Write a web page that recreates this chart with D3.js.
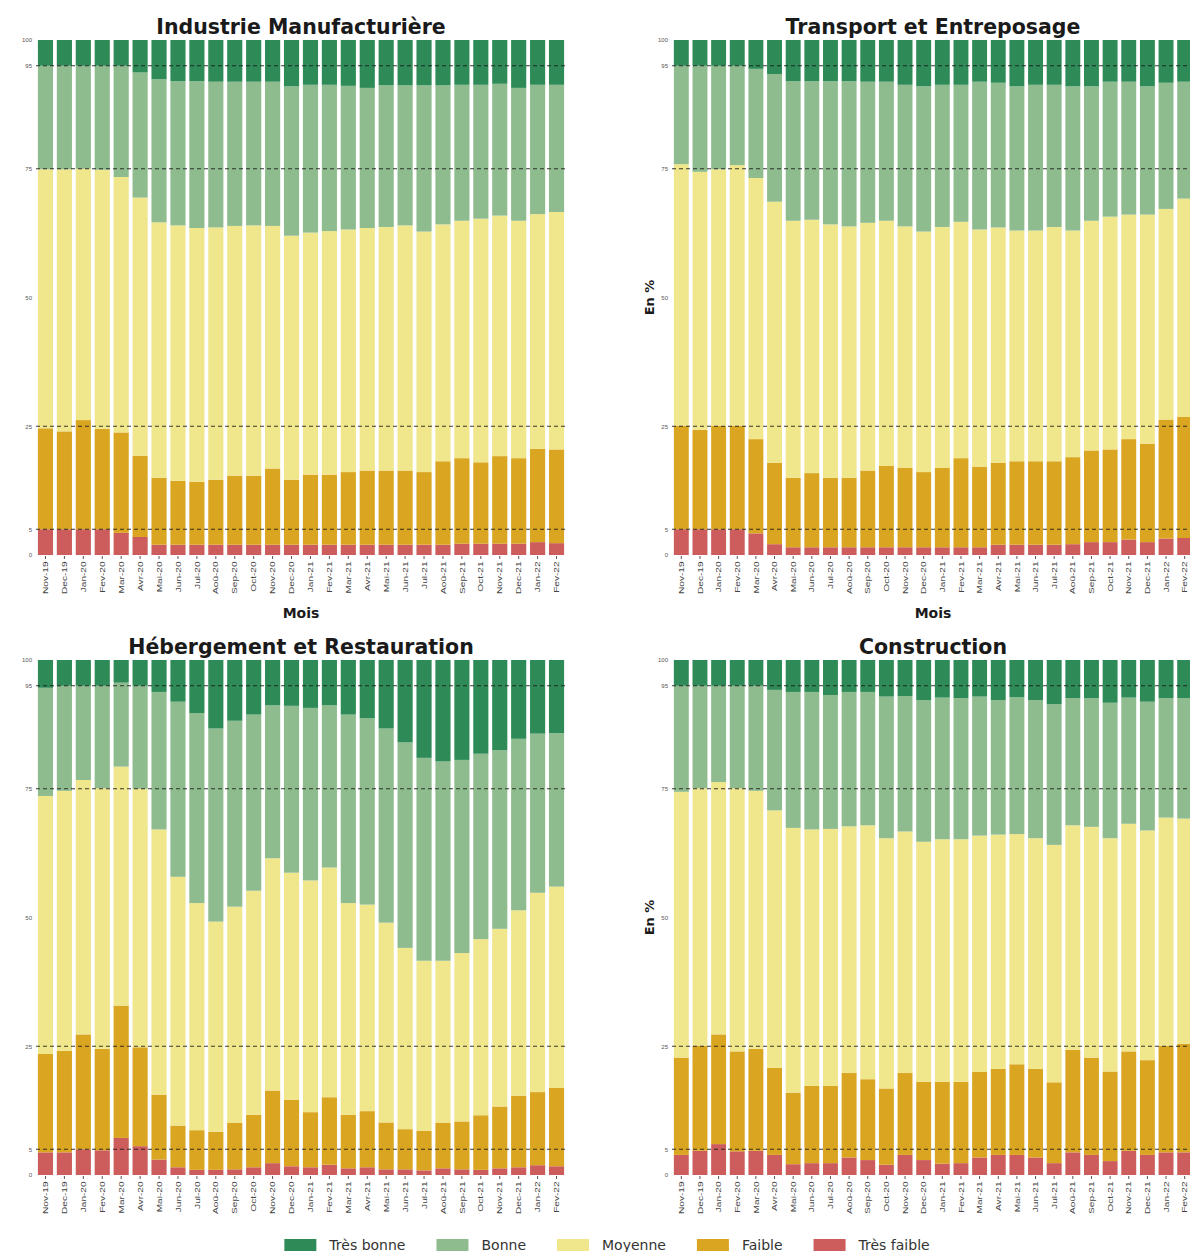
<!DOCTYPE html>
<html>
<head>
<meta charset="utf-8">
<script src="https://cdn.jsdelivr.net/npm/d3@7"></script>
<style>
  html, body { margin: 0; padding: 0; background: #fff; overflow: hidden; }
  svg { display: block; font-family: "DejaVu Sans", sans-serif; }
</style>
</head>
<body>
<svg id="chart" width="1190" height="1252"></svg>
<script>
// ---- données (en %) --------------------------------------------------------
const MONTHS = ["Nov-19", "Dec-19", "Jan-20", "Fev-20", "Mar-20", "Avr-20", "Mai-20", "Jun-20",
  "Jul-20", "Aoû-20", "Sep-20", "Oct-20", "Nov-20", "Dec-20", "Jan-21", "Fev-21", "Mar-21",
  "Avr-21", "Mai-21", "Jun-21", "Jul-21", "Aoû-21", "Sep-21", "Oct-21", "Nov-21", "Dec-21",
  "Jan-22", "Fev-22"];

// ordre d'empilement : du bas vers le haut
const CATEGORIES = ["Très faible", "Faible", "Moyenne", "Bonne", "Très bonne"];
const LEGEND_ORDER = ["Très bonne", "Bonne", "Moyenne", "Faible", "Très faible"];
const COLORS = ["indianred", "goldenrod", "khaki", "darkseagreen", "seagreen"];

const Y_TICKS = [0, 5, 25, 50, 75, 95, 100];
const REF_LINES = [5, 25, 75, 95];

const industrie = {
  tresFaible: [5, 5, 5, 5, 4.3, 3.5, 2, 2, 2, 2, 2, 2, 2, 2, 2, 2, 2, 2, 2, 2, 2, 2, 2.2, 2.2, 2.2, 2.2, 2.5, 2.3],
  faible: [19.6, 19.0, 21.2, 19.5, 19.5, 15.8, 13.0, 12.4, 12.2, 12.6, 13.4, 13.4, 14.8, 12.6, 13.6, 13.6, 14.1, 14.4, 14.4, 14.4, 14.1, 16.2, 16.6, 15.8, 17.0, 16.6, 18.1, 18.2],
  moyenne: [50.3, 50.9, 48.8, 50.3, 49.6, 50.1, 49.6, 49.6, 49.3, 49.0, 48.5, 48.6, 47.1, 47.4, 47.0, 47.3, 47.1, 47.1, 47.3, 47.6, 46.7, 46.0, 46.1, 47.3, 46.7, 46.1, 45.6, 46.1],
  bonne: [20.1, 20.1, 20.0, 20.2, 21.6, 24.3, 27.8, 28.0, 28.5, 28.3, 28.0, 27.9, 28.0, 29.0, 28.7, 28.4, 27.9, 27.2, 27.5, 27.2, 28.4, 27.0, 26.4, 26.0, 25.6, 25.8, 25.1, 24.7],
  tresBonne: [5, 5, 5, 5, 5, 6.3, 7.6, 8.0, 8.0, 8.1, 8.1, 8.1, 8.1, 9.0, 8.7, 8.7, 8.9, 9.3, 8.8, 8.8, 8.8, 8.8, 8.7, 8.7, 8.5, 9.3, 8.7, 8.7]
};

const transport = {
  tresFaible: [5, 5, 5, 5, 4.2, 2.1, 1.5, 1.5, 1.5, 1.5, 1.5, 1.5, 1.5, 1.5, 1.5, 1.5, 1.5, 2.0, 2.0, 2.0, 2.0, 2.1, 2.5, 2.5, 3.0, 2.5, 3.2, 3.3],
  faible: [20.1, 19.3, 20.1, 20.1, 18.3, 15.8, 13.5, 14.4, 13.5, 13.5, 14.9, 15.8, 15.4, 14.6, 15.4, 17.3, 15.6, 15.9, 16.2, 16.2, 16.2, 16.9, 17.8, 18.0, 19.5, 19.1, 23.1, 23.5],
  moyenne: [50.8, 50.1, 49.8, 50.6, 50.7, 50.7, 49.9, 49.2, 49.2, 48.8, 48.1, 47.6, 46.9, 46.7, 46.8, 45.9, 46.1, 45.7, 44.8, 44.8, 45.5, 44.0, 44.6, 45.2, 43.6, 44.5, 40.9, 42.4],
  bonne: [19.1, 20.6, 20.1, 19.3, 21.2, 24.8, 27.1, 26.9, 27.8, 28.2, 27.4, 27.0, 27.5, 28.2, 27.6, 26.6, 28.7, 28.1, 28.0, 28.3, 27.6, 28.0, 26.1, 26.2, 25.8, 24.9, 24.5, 22.7],
  tresBonne: [5, 5, 5, 5, 5.6, 6.6, 8, 8, 8, 8, 8.1, 8.1, 8.7, 9.0, 8.7, 8.7, 8.1, 8.3, 9.0, 8.7, 8.7, 9.0, 9.0, 8.1, 8.1, 9.0, 8.3, 8.1]
};

const hebergement = {
  tresFaible: [4.4, 4.4, 5.0, 4.8, 7.2, 5.6, 3.0, 1.5, 1.0, 1.0, 1.1, 1.5, 2.3, 1.7, 1.5, 2.0, 1.3, 1.5, 1.1, 1.1, 0.9, 1.3, 1.1, 1.0, 1.3, 1.5, 1.9, 1.7],
  faible: [19.1, 19.7, 22.3, 19.7, 25.7, 19.2, 12.6, 8.1, 7.7, 7.4, 9.0, 10.2, 14.1, 12.9, 10.7, 13.1, 10.4, 10.9, 9.1, 7.8, 7.7, 8.8, 9.3, 10.6, 12.0, 13.9, 14.2, 15.2],
  moyenne: [50.1, 50.5, 49.4, 50.6, 46.4, 50.2, 51.5, 48.3, 44.1, 40.8, 42.0, 43.5, 45.1, 44.1, 45.0, 44.6, 41.1, 40.1, 38.8, 35.2, 33.0, 31.5, 32.7, 34.2, 34.5, 36.0, 38.7, 39.1],
  bonne: [21.0, 20.4, 18.3, 19.9, 16.3, 20.0, 26.7, 34.0, 36.9, 37.5, 36.1, 34.2, 29.7, 32.4, 33.5, 31.5, 36.6, 36.2, 37.7, 39.9, 39.4, 38.7, 37.5, 36.0, 34.7, 33.3, 30.9, 29.8],
  tresBonne: [5.4, 5, 5, 5, 4.4, 5, 6.2, 8.1, 10.3, 13.3, 11.8, 10.6, 8.8, 8.9, 9.3, 8.8, 10.6, 11.3, 13.3, 16.0, 19.0, 19.7, 19.4, 18.2, 17.5, 15.3, 14.3, 14.2]
};

const construction = {
  tresFaible: [3.9, 4.7, 6.0, 4.6, 4.7, 3.9, 2.1, 2.3, 2.3, 3.4, 2.9, 2.0, 3.9, 2.9, 2.2, 2.3, 3.4, 3.9, 3.9, 3.4, 2.3, 4.4, 3.9, 2.7, 4.7, 3.9, 4.4, 4.4],
  faible: [18.9, 20.4, 21.3, 19.4, 19.8, 16.9, 13.9, 15.0, 15.0, 16.4, 15.7, 14.8, 15.9, 15.2, 15.9, 15.8, 16.6, 16.7, 17.6, 17.2, 15.7, 19.9, 18.9, 17.4, 19.3, 18.4, 20.7, 21.1],
  moyenne: [51.6, 50.0, 49.0, 51.1, 50.1, 50.0, 51.4, 49.8, 49.9, 47.9, 49.3, 48.6, 46.9, 46.6, 47.1, 47.1, 45.9, 45.5, 44.7, 44.8, 46.1, 43.6, 44.8, 45.3, 44.2, 44.6, 44.3, 43.7],
  bonne: [20.6, 19.9, 18.7, 19.9, 20.4, 23.4, 26.4, 26.7, 26.0, 26.1, 25.9, 27.5, 26.3, 27.5, 27.5, 27.4, 27.0, 26.1, 26.6, 26.8, 27.3, 24.7, 25.0, 26.3, 24.5, 25.0, 23.2, 23.4],
  tresBonne: [5, 5, 5, 5, 5, 5.8, 6.2, 6.2, 6.8, 6.2, 6.2, 7.1, 7.0, 7.8, 7.3, 7.4, 7.1, 7.8, 7.2, 7.8, 8.6, 7.4, 7.4, 8.3, 7.3, 8.1, 7.4, 7.4]
};

// ---- mise en page des 4 panneaux -------------------------------------------
// (les panneaux de droite sont un peu plus étroits : la dernière étiquette doit rester visible)
const PANELS = [
  { title: "Industrie Manufacturière", data: industrie, left: 36, top: 40, w: 530, mois: true, enPct: false },
  { title: "Transport et Entreposage", data: transport, left: 672, top: 40, w: 522, mois: true, enPct: true },
  { title: "Hébergement et Restauration", data: hebergement, left: 36, top: 660, w: 530, mois: false, enPct: false },
  { title: "Construction", data: construction, left: 672, top: 660, w: 522, mois: false, enPct: true },
];
const PH = 515;
const KEYS = ["tresFaible", "faible", "moyenne", "bonne", "tresBonne"];

const svg = d3.select("#chart");

function drawPanel(p) {
  const g = svg.append("g");
  const PW = p.w;
  const x = d3.scaleBand().domain(MONTHS).range([p.left, p.left + PW]).paddingInner(0.2).paddingOuter(0.1);
  const y = d3.scaleLinear().domain([0, 100]).range([p.top + PH, p.top]);

  const rows = MONTHS.map((m, i) => {
    const r = { month: m };
    KEYS.forEach((k) => { r[k] = p.data[k][i]; });
    return r;
  });
  const series = d3.stack().keys(KEYS)(rows);

  g.selectAll("g.layer").data(series).join("g")
    .attr("class", "layer")
    .attr("fill", (d, i) => COLORS[i])
    .selectAll("rect").data((d) => d).join("rect")
    .attr("x", (d) => x(d.data.month))
    .attr("width", x.bandwidth())
    .attr("y", (d) => y(d[1]))
    .attr("height", (d) => y(d[0]) - y(d[1]));

  // lignes de référence pointillées
  g.selectAll("line.ref").data(REF_LINES).join("line")
    .attr("class", "ref")
    .attr("x1", p.left).attr("x2", p.left + PW)
    .attr("y1", (d) => y(d)).attr("y2", (d) => y(d))
    .attr("stroke", "#1a1a1a").attr("stroke-width", 1.1)
    .attr("stroke-dasharray", "4,3").attr("opacity", 0.85);

  // axe Y
  const ya = g.append("g").attr("transform", `translate(${p.left - 1},0)`)
    .call(d3.axisLeft(y).tickValues(Y_TICKS).tickSize(0).tickPadding(3));
  ya.select(".domain").remove();
  ya.selectAll("text").attr("font-size", 6).attr("fill", "#555");

  // axe X (étiquettes verticales)
  const xa = g.append("g").attr("transform", `translate(0,${p.top + PH + 1})`)
    .call(d3.axisBottom(x).tickSize(3));
  xa.select(".domain").remove();
  xa.selectAll(".tick line").attr("stroke", "#555");
  xa.selectAll("text")
    .attr("font-size", 7.5).attr("fill", "#444")
    .attr("text-anchor", "end")
    .attr("transform", "rotate(-90) scale(1.35,1)")
    .attr("x", -4).attr("y", 0).attr("dy", "0.35em");

  g.append("text")
    .attr("x", p.left + PW / 2).attr("y", p.top - 6)
    .attr("text-anchor", "middle")
    .attr("font-size", 20.5).attr("font-weight", "bold").attr("fill", "#1a1a1a")
    .text(p.title);

  if (p.mois) {
    g.append("text")
      .attr("x", p.left + PW / 2).attr("y", p.top + PH + 63)
      .attr("text-anchor", "middle")
      .attr("font-size", 14).attr("font-weight", "bold").attr("fill", "#1a1a1a")
      .text("Mois");
  }
  if (p.enPct) {
    g.append("text")
      .attr("transform", `translate(${p.left - 18},${p.top + PH / 2}) rotate(-90)`)
      .attr("text-anchor", "middle")
      .attr("font-size", 13).attr("font-weight", "bold").attr("fill", "#1a1a1a")
      .text("En %");
  }
}

PANELS.forEach(drawPanel);

// ---- légende ---------------------------------------------------------------
const legend = svg.append("g");
const SW = 32, SH = 12, GAP_TXT = 13, GAP_ITEM = 31, LY = 1245;
const items = legend.selectAll("g").data(LEGEND_ORDER).join("g");
items.append("rect")
  .attr("width", SW).attr("height", SH).attr("y", LY - SH / 2)
  .attr("fill", (d) => COLORS[CATEGORIES.indexOf(d)]);
items.append("text")
  .attr("x", SW + GAP_TXT).attr("y", LY).attr("dy", "0.35em")
  .attr("font-size", 14).attr("fill", "#333")
  .text((d) => d);
let cx = 0;
const offsets = [];
items.each(function () {
  const w = SW + GAP_TXT + d3.select(this).select("text").node().getComputedTextLength();
  offsets.push(cx);
  cx += w + GAP_ITEM;
});
const total = cx - GAP_ITEM;
const startX = 607 - total / 2;
items.attr("transform", (d, i) => `translate(${startX + offsets[i]},0)`);
</script>
</body>
</html>
